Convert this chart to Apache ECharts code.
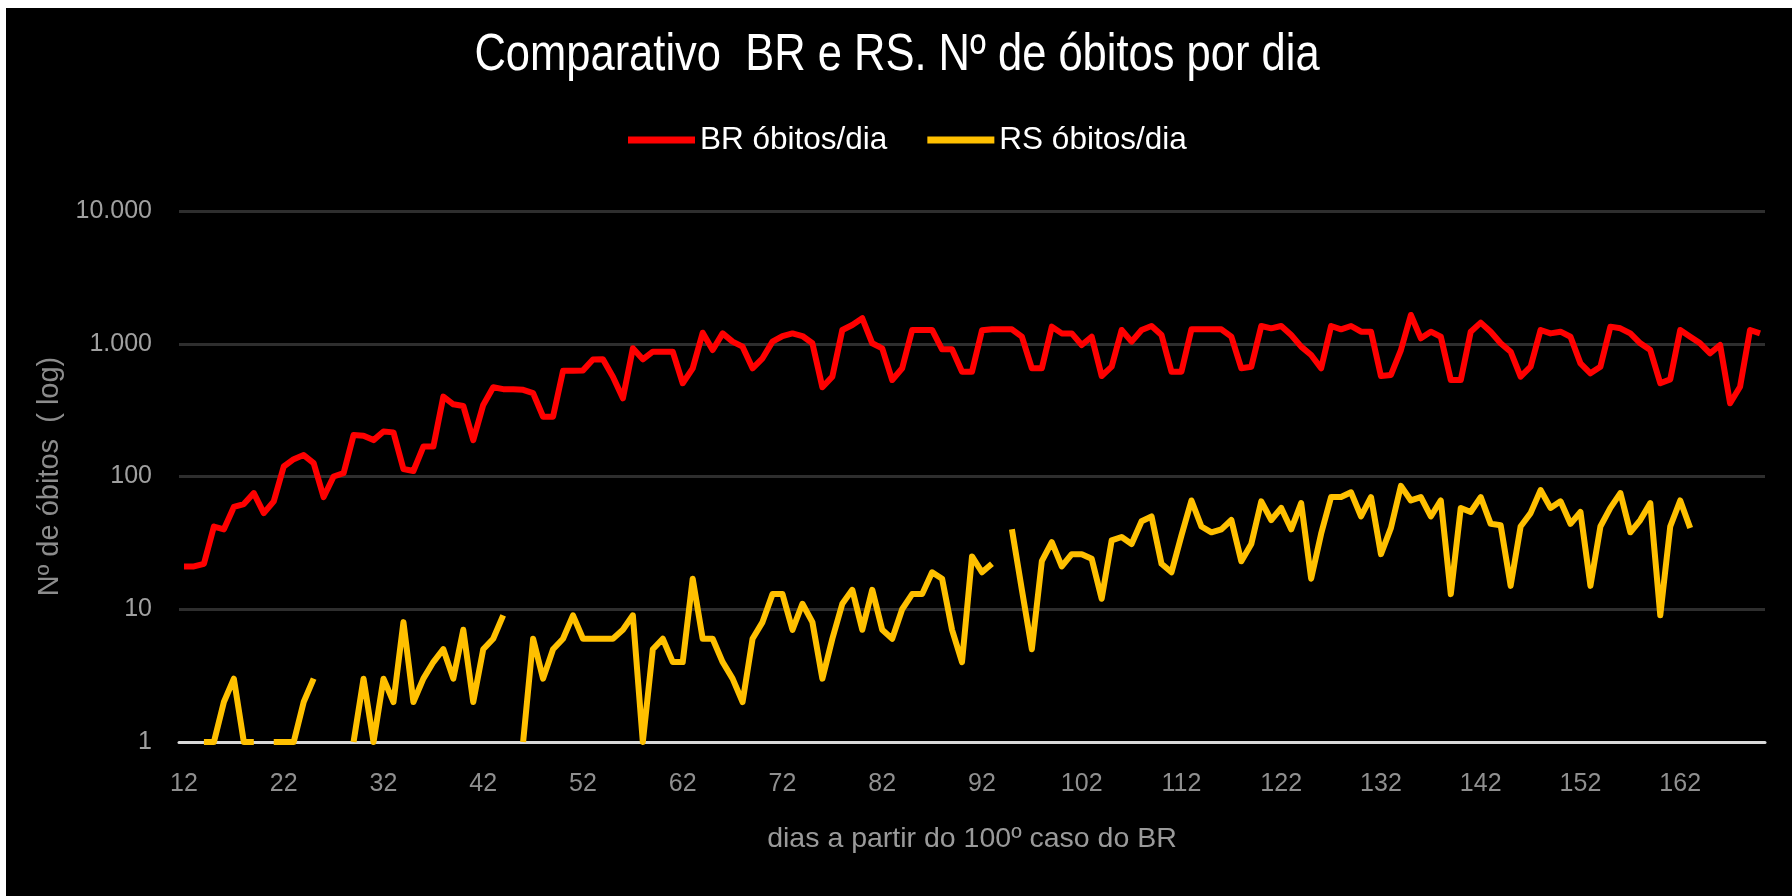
<!DOCTYPE html>
<html>
<head>
<meta charset="utf-8">
<script src="https://cdn.jsdelivr.net/npm/echarts@6/dist/echarts.min.js"></script>
<style>
  html, body { margin: 0; padding: 0; background: #ffffff; width: 1792px; height: 896px; overflow: hidden; }
  #chart { position: absolute; left: 6px; top: 8px; width: 1786px; height: 888px; background: #000000; }
</style>
</head>
<body>
<div id="chart"></div>
<script>
// Days counted from Brazil's 100th confirmed case
const firstDay = 12;
const lastDay = 170;
const days = [];
for (let d = firstDay; d <= lastDay; d++) days.push(String(d));

// Daily deaths, Brazil (one value per day, 12 .. 170)
const brDeaths = [
  21, 21, 22, 42, 40, 59, 62, 75, 53, 65,
  119, 135, 145, 126, 70, 100, 106, 205, 203, 188,
  218, 215, 114, 110, 168, 168, 400, 350, 340, 188,
  346, 470, 455, 455, 450, 425, 282, 282, 625, 625,
  630, 760, 763, 565, 388, 924, 763, 871, 871, 871,
  504, 653, 1211, 897, 1197, 1037, 951, 653, 777, 1037,
  1143, 1197, 1143, 1008, 470, 565, 1270, 1385, 1556, 1008,
  924, 533, 653, 1270, 1270, 1270, 908, 908, 616, 616,
  1262, 1285, 1285, 1285, 1130, 653, 653, 1345, 1197, 1197,
  979, 1130, 571, 672, 1270, 1037, 1270, 1361, 1164, 616,
  616, 1285, 1285, 1285, 1285, 1130, 653, 672, 1361, 1307,
  1361, 1164, 951, 823, 653, 1361, 1285, 1361, 1233, 1233,
  571, 582, 897, 1647, 1099, 1233, 1130, 533, 533, 1233,
  1442, 1233, 1008, 871, 565, 672, 1270, 1197, 1233, 1130,
  712, 599, 672, 1345, 1307, 1197, 1008, 897, 504, 539,
  1270, 1130, 1008, 847, 979, 356, 475, 1270, 1197
];

// Daily deaths, Rio Grande do Sul (null = no deaths that day, not shown on a log scale)
const rsDeaths = [
  null, null, 1, 1, 2, 3, 1, 1, null, 1,
  1, 1, 2, 3, null, null, null, 1, 3, 1,
  3, 2, 8, 2, 3, 4, 5, 3, 7, 2,
  5, 6, 9, null, 1, 6, 3, 5, 6, 9,
  6, 6, 6, 6, 7, 9, 1, 5, 6, 4,
  4, 17, 6, 6, 4, 3, 2, 6, 8, 13,
  13, 7, 11, 8, 3, 6, 11, 14, 7, 14,
  7, 6, 10, 13, 13, 19, 17, 7, 4, 25,
  19, 22, null, 40, 14, 5, 23, 32, 21, 26,
  26, 24, 12, 33, 35, 31, 46, 50, 22, 19,
  36, 66, 42, 38, 40, 47, 23, 31, 65, 47,
  58, 40, 63, 17, 37, 70, 70, 76, 50, 70,
  26, 41, 85, 66, 70, 50, 66, 13, 58, 54,
  70, 44, 43, 15, 42, 53, 79, 58, 65, 44,
  54, 15, 42, 58, 75, 38, 47, 63, 9, 42,
  66, 41, null, null, null, null, null, null, null
];

const seriesNames = ['BR óbitos/dia', 'RS óbitos/dia'];
const titleText = 'Comparativo  BR e RS. Nº de óbitos por dia';
const xAxisTitle = 'dias a partir do 100º caso do BR';
const yAxisTitle = 'Nº de óbitos  ( log)';

const baseFont = "'Liberation Sans', Arial, sans-serif";

function thousands(v) {
  return String(Math.round(v)).replace(/\B(?=(\d{3})+(?!\d))/g, '.');
}

const chart = echarts.init(document.getElementById('chart'), null, { renderer: 'canvas' });

chart.setOption({
  backgroundColor: '#000000',
  animation: false,
  // Title drawn as a graphic text so it can be stretched a little vertically (tall, light heading)
  graphic: [
    {
      type: 'text',
      x: 891,
      y: 48,
      scaleY: 1.2,
      style: {
        text: titleText,
        fill: '#ffffff',
        fontFamily: baseFont,
        fontSize: 43.5,
        fontWeight: 'normal',
        textAlign: 'center',
        textVerticalAlign: 'middle'
      }
    }
  ],
  legend: {
    data: seriesNames,
    left: 622,
    top: 116,
    padding: 0,
    itemWidth: 67,
    itemHeight: 7,
    itemGap: 40,
    icon: 'rect',
    textStyle: { color: '#ffffff', fontFamily: baseFont, fontSize: 31.5, lineHeight: 32 }
  },
  grid: { left: 173, right: 27, top: 203, bottom: 154, containLabel: false },
  xAxis: {
    type: 'category',
    data: days,
    boundaryGap: true,
    axisLine: { show: true, lineStyle: { color: '#d9d9d9', width: 3 } },
    axisTick: { show: false },
    axisLabel: { interval: 9, color: '#8f8f8f', fontFamily: baseFont, fontSize: 25, margin: 30 },
    splitLine: { show: false },
    name: xAxisTitle,
    nameLocation: 'middle',
    nameGap: 83,
    nameTextStyle: { color: '#9a9a9a', fontFamily: baseFont, fontSize: 28.5 }
  },
  yAxis: {
    type: 'log',
    logBase: 10,
    min: 1,
    max: 10000,
    axisLine: { show: false },
    axisTick: { show: false },
    axisLabel: { color: '#a0a0a0', fontFamily: baseFont, fontSize: 25, margin: 27, formatter: thousands },
    splitLine: { show: true, lineStyle: { color: '#2e2e2e', width: 3 } },
    name: yAxisTitle,
    nameLocation: 'middle',
    nameRotate: 90,
    nameGap: 112,
    nameTextStyle: { color: '#8c8c8c', fontFamily: baseFont, fontSize: 29 }
  },
  series: [
    {
      name: seriesNames[0],
      type: 'line',
      data: brDeaths,
      showSymbol: false,
      symbol: 'none',
      connectNulls: false,
      lineStyle: { color: '#ff0000', width: 6, join: 'round' },
      itemStyle: { color: '#ff0000' },
      z: 3
    },
    {
      name: seriesNames[1],
      type: 'line',
      data: rsDeaths,
      showSymbol: false,
      symbol: 'none',
      connectNulls: false,
      lineStyle: { color: '#ffc000', width: 6, join: 'round' },
      itemStyle: { color: '#ffc000' },
      z: 4
    }
  ]
});
</script>
</body>
</html>
